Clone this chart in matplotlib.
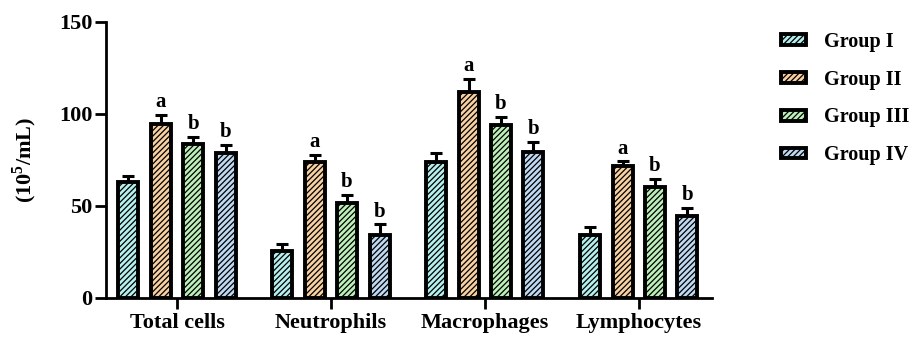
import matplotlib.pyplot as plt
import numpy as np
from matplotlib.patches import Patch

plt.rcParams['font.family'] = ['Liberation Serif', 'DejaVu Serif']
plt.rcParams['font.weight'] = 'bold'
plt.rcParams['hatch.linewidth'] = 0.9
plt.rcParams['mathtext.fontset'] = 'custom'
plt.rcParams['mathtext.rm'] = 'Liberation Serif:bold'
plt.rcParams['mathtext.bf'] = 'Liberation Serif:bold'

categories = ['Total cells', 'Neutrophils', 'Macrophages', 'Lymphocytes']
groups = ['Group I', 'Group II', 'Group III', 'Group IV']

group1 = [63, 25.5, 74, 34.2]
group2 = [94.6, 73.8, 112, 71.5]
group3 = [83.7, 51.6, 94, 60.5]
group4 = [79, 34.2, 79.5, 44.6]
err1 = [3.2, 4.0, 4.8, 4.3]
err2 = [5.0, 4.0, 7.0, 2.7]
err3 = [3.8, 4.4, 4.4, 4.2]
err4 = [4.0, 5.8, 5.3, 4.4]
letters2 = ['a', 'a', 'a', 'a']
letters3 = ['b', 'b', 'b', 'b']
letters4 = ['b', 'b', 'b', 'b']

colors = ['#b5f0ee', '#f8d0a2', '#bdf0b8', '#c0d9f2']
values = [group1, group2, group3, group4]
errors = [err1, err2, err3, err4]
letters = [None, letters2, letters3, letters4]

fig = plt.figure(figsize=(9.15, 3.37), dpi=100)
ax = fig.add_axes([0.116, 0.116, 0.662, 0.819])

x = np.arange(len(categories))
offsets = [-0.316, -0.105, 0.105, 0.316]
width = 0.13

for i in range(4):
    ax.bar(x + offsets[i], values[i], width, color=colors[i], edgecolor='black',
           linewidth=2.8, hatch='//////', zorder=3)
    ax.errorbar(x + offsets[i], values[i], yerr=[np.zeros(4), errors[i]], fmt='none',
                ecolor='black', elinewidth=2.2, capsize=4.5, capthick=2.2, zorder=2)
    if letters[i] is not None:
        for j in range(4):
            ax.text(x[j] + offsets[i], values[i][j] + errors[i][j] + 1.5, letters[i][j],
                    ha='center', va='bottom', fontsize=15, fontweight='bold')

ax.set_xlim(-0.46, 3.475)
ax.set_ylim(0, 150)
ax.set_yticks([0, 50, 100, 150])
ax.set_xticks(x)
ax.set_xticklabels(categories, fontsize=16, fontweight='bold')
ax.tick_params(axis='y', labelsize=16, width=2, length=8, pad=2)
ax.tick_params(axis='x', width=2, length=8, pad=3)
for lab in ax.get_yticklabels():
    lab.set_fontweight('bold')
ax.spines['top'].set_visible(False)
ax.spines['right'].set_visible(False)
ax.spines['left'].set_linewidth(2)
ax.spines['bottom'].set_linewidth(2)
ax.set_ylabel('(10$^{\\mathbf{5}}$/mL)', fontsize=16, fontweight='bold', labelpad=14)

handles = [Patch(facecolor=colors[i], edgecolor='black', linewidth=2.8, hatch='//////')
           for i in range(4)]
fig.legend(handles, groups, loc='upper left', bbox_to_anchor=(0.845, 0.929),
           frameon=False, fontsize=14.5, handlelength=1.25, handleheight=0.45,
           labelspacing=0.88, handletextpad=0.85, borderaxespad=0)

fig.savefig('out.png', dpi=100)
